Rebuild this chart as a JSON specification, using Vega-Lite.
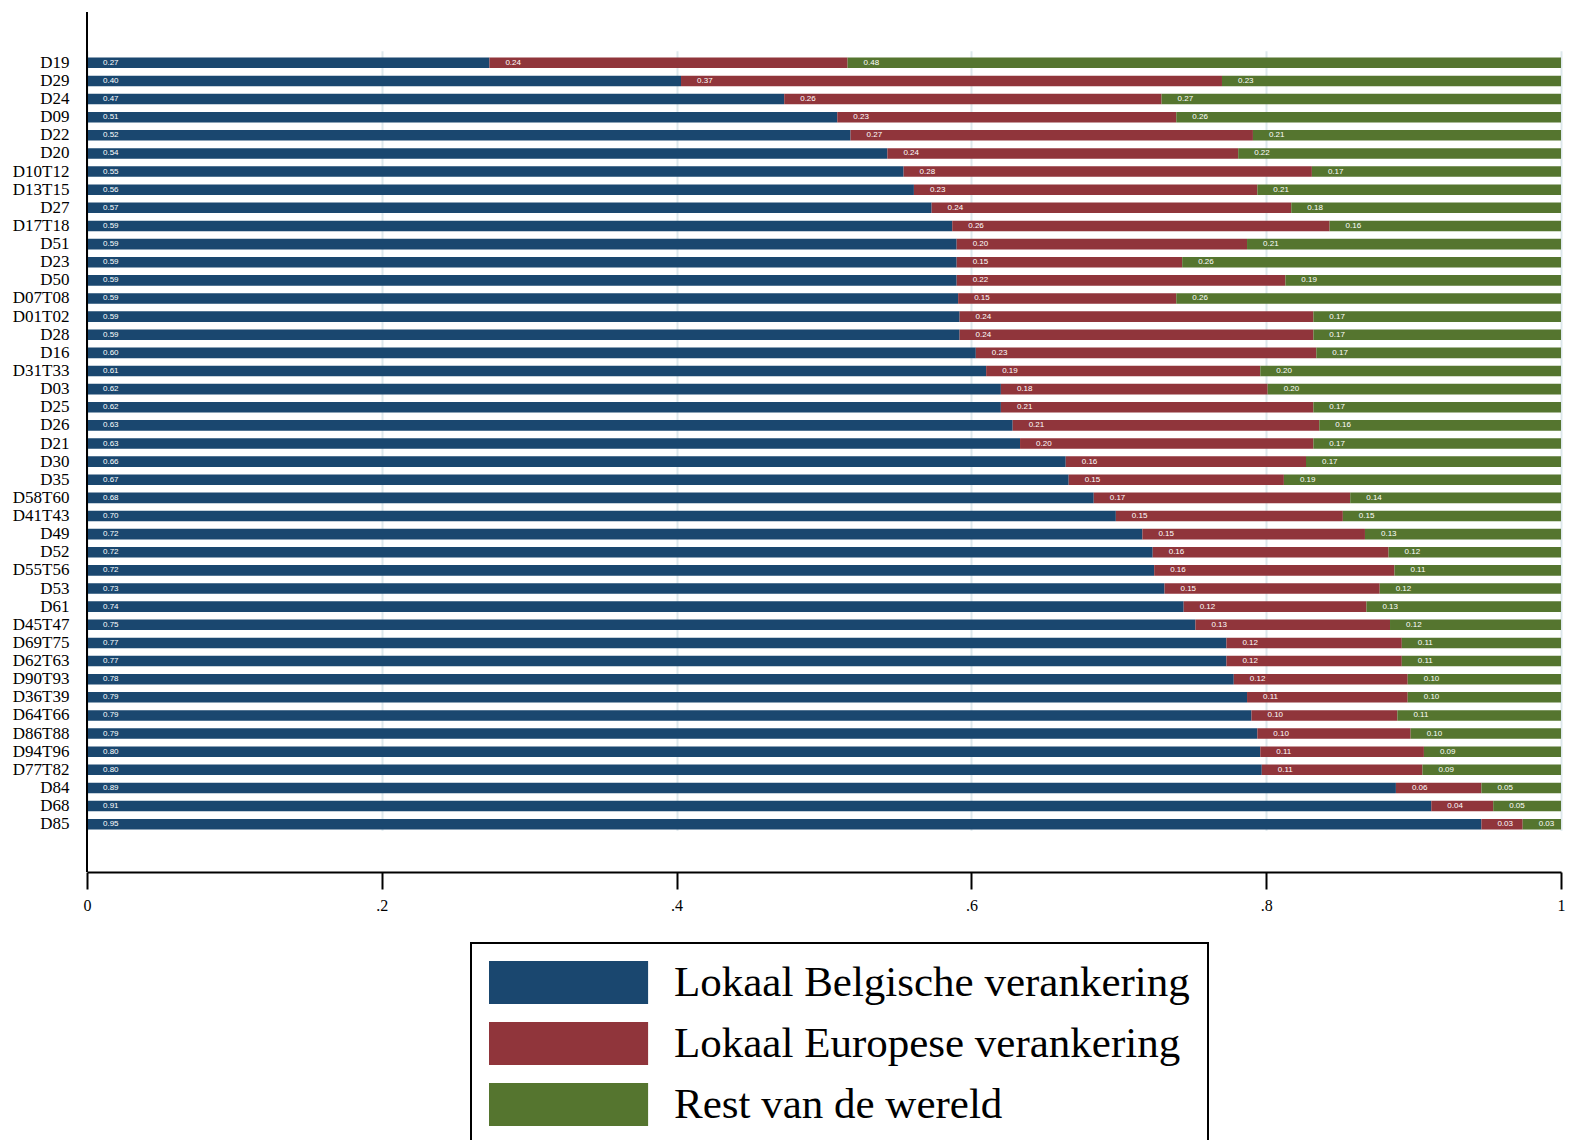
{
  "$schema": "https://vega.github.io/schema/vega-lite/v6.json",
  "width": 1474,
  "height": 860,
  "autosize": {"type": "none"},
  "padding": {"left": 87, "top": 12, "right": 33, "bottom": 268},
  "background": "white",
  "layer": [
    {
      "data": {"values": [
        {"sector": "D19", "B": 0.273, "E": 0.243, "R": 0.484},
        {"sector": "D29", "B": 0.403, "E": 0.367, "R": 0.230},
        {"sector": "D24", "B": 0.473, "E": 0.256, "R": 0.271},
        {"sector": "D09", "B": 0.509, "E": 0.230, "R": 0.261},
        {"sector": "D22", "B": 0.518, "E": 0.273, "R": 0.209},
        {"sector": "D20", "B": 0.543, "E": 0.238, "R": 0.219},
        {"sector": "D10T12", "B": 0.554, "E": 0.277, "R": 0.169},
        {"sector": "D13T15", "B": 0.561, "E": 0.233, "R": 0.206},
        {"sector": "D27", "B": 0.573, "E": 0.244, "R": 0.183},
        {"sector": "D17T18", "B": 0.587, "E": 0.256, "R": 0.157},
        {"sector": "D51", "B": 0.590, "E": 0.197, "R": 0.213},
        {"sector": "D23", "B": 0.590, "E": 0.153, "R": 0.257},
        {"sector": "D50", "B": 0.590, "E": 0.223, "R": 0.187},
        {"sector": "D07T08", "B": 0.591, "E": 0.148, "R": 0.261},
        {"sector": "D01T02", "B": 0.592, "E": 0.240, "R": 0.168},
        {"sector": "D28", "B": 0.592, "E": 0.240, "R": 0.168},
        {"sector": "D16", "B": 0.603, "E": 0.231, "R": 0.166},
        {"sector": "D31T33", "B": 0.610, "E": 0.186, "R": 0.204},
        {"sector": "D03", "B": 0.620, "E": 0.181, "R": 0.199},
        {"sector": "D25", "B": 0.620, "E": 0.212, "R": 0.168},
        {"sector": "D26", "B": 0.628, "E": 0.208, "R": 0.164},
        {"sector": "D21", "B": 0.633, "E": 0.199, "R": 0.168},
        {"sector": "D30", "B": 0.664, "E": 0.163, "R": 0.173},
        {"sector": "D35", "B": 0.666, "E": 0.146, "R": 0.188},
        {"sector": "D58T60", "B": 0.683, "E": 0.174, "R": 0.143},
        {"sector": "D41T43", "B": 0.698, "E": 0.154, "R": 0.148},
        {"sector": "D49", "B": 0.716, "E": 0.151, "R": 0.133},
        {"sector": "D52", "B": 0.723, "E": 0.160, "R": 0.117},
        {"sector": "D55T56", "B": 0.724, "E": 0.163, "R": 0.113},
        {"sector": "D53", "B": 0.731, "E": 0.146, "R": 0.123},
        {"sector": "D61", "B": 0.744, "E": 0.124, "R": 0.132},
        {"sector": "D45T47", "B": 0.752, "E": 0.132, "R": 0.116},
        {"sector": "D69T75", "B": 0.773, "E": 0.119, "R": 0.108},
        {"sector": "D62T63", "B": 0.773, "E": 0.119, "R": 0.108},
        {"sector": "D90T93", "B": 0.778, "E": 0.118, "R": 0.104},
        {"sector": "D36T39", "B": 0.787, "E": 0.109, "R": 0.104},
        {"sector": "D64T66", "B": 0.790, "E": 0.099, "R": 0.111},
        {"sector": "D86T88", "B": 0.794, "E": 0.104, "R": 0.102},
        {"sector": "D94T96", "B": 0.796, "E": 0.111, "R": 0.093},
        {"sector": "D77T82", "B": 0.797, "E": 0.109, "R": 0.094},
        {"sector": "D84", "B": 0.888, "E": 0.058, "R": 0.054},
        {"sector": "D68", "B": 0.912, "E": 0.042, "R": 0.046},
        {"sector": "D85", "B": 0.946, "E": 0.028, "R": 0.026}
      ]},
      "transform": [
        {"fold": ["B", "E", "R"], "as": ["cat", "value"]},
        {"stack": "value", "groupby": ["sector"], "sort": [{"field": "cat", "order": "ascending"}], "as": ["x0", "x1"]}
      ],
      "encoding": {
        "y": {
          "field": "sector",
          "type": "nominal",
          "sort": ["D19","D29","D24","D09","D22","D20","D10T12","D13T15","D27","D17T18","D51","D23","D50","D07T08","D01T02","D28","D16","D31T33","D03","D25","D26","D21","D30","D35","D58T60","D41T43","D49","D52","D55T56","D53","D61","D45T47","D69T75","D62T63","D90T93","D36T39","D64T66","D86T88","D94T96","D77T82","D84","D68","D85"],
          "scale": {"paddingInner": 0.42, "paddingOuter": 0.21, "range": [41.8, 821.2]},
          "axis": {
            "title": null,
            "ticks": false,
            "grid": false,
            "domain": false,
            "labelFont": "Liberation Serif",
            "labelFontSize": 17,
            "labelColor": "black",
            "labelPadding": 18
          }
        }
      },
      "layer": [
        {
          "mark": {"type": "bar"},
          "encoding": {
            "x": {
              "field": "x0",
              "type": "quantitative",
              "scale": {"domain": [0, 1], "nice": false, "zero": true},
              "axis": {
                "title": null,
                "values": [0, 0.2, 0.4, 0.6, 0.8, 1],
                "labelExpr": "datum.value === 0 ? '0' : datum.value === 1 ? '1' : '.' + round(datum.value * 10)",
                "grid": true,
                "gridColor": "#dde8ec",
                "gridWidth": 2,
                "domainColor": "black",
                "domainWidth": 2,
                "tickColor": "black",
                "tickWidth": 2,
                "tickSize": 17,
                "labelFont": "Liberation Serif",
                "labelFontSize": 16,
                "labelColor": "black",
                "labelPadding": 8,
                "labelFlush": false
              }
            },
            "x2": {"field": "x1"},
            "color": {
              "field": "cat",
              "type": "nominal",
              "scale": {"domain": ["B", "E", "R"], "range": ["#1a476f", "#90353b", "#55752f"]},
              "legend": {
                "title": null,
                "orient": "none",
                "legendX": 384,
                "legendY": 931,
                "direction": "vertical",
                "symbolType": "M-1,-1H6.4V1H-1Z",
                "symbolSize": 1849,
                "symbolStrokeWidth": 0,
                "symbolOpacity": 1,
                "labelFont": "Liberation Serif",
                "labelFontSize": 43,
                "labelColor": "black",
                "labelOffset": 142,
                "labelLimit": 0,
                "rowPadding": 17,
                "padding": 18,
                "strokeColor": "black",
                "labelExpr": "datum.value === 'B' ? 'Lokaal Belgische verankering' : datum.value === 'E' ? 'Lokaal Europese verankering' : 'Rest van de wereld'"
              }
            }
          }
        },
        {
          "mark": {"type": "text", "align": "left", "baseline": "middle", "dx": 16, "fontSize": 8, "font": "Liberation Sans", "color": "white"},
          "encoding": {
            "x": {"field": "x0", "type": "quantitative"},
            "text": {"field": "value", "type": "quantitative", "format": ".2f"}
          }
        }
      ]
    },
    {
      "data": {"values": [{"x": 0}]},
      "mark": {"type": "rule", "color": "black", "strokeWidth": 2},
      "encoding": {"x": {"field": "x", "type": "quantitative"}}
    }
  ],
  "config": {
    "view": {"stroke": null},
    "legend": {"strokeWidth": 2}
  }
}
